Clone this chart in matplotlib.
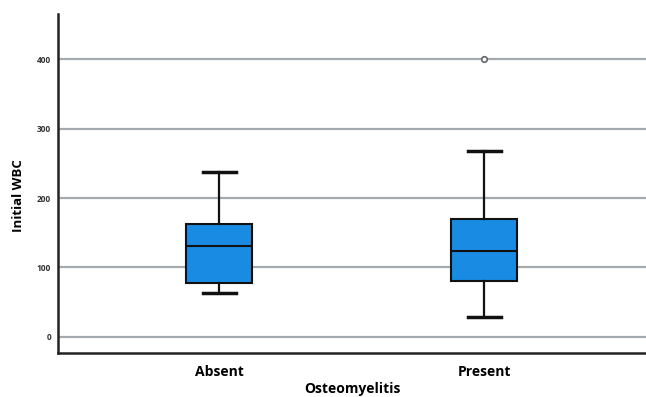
import numpy as np
import matplotlib.pyplot as plt

plt.rcParams['font.family'] = ['Open Sans', 'DejaVu Sans']

groups = ['Absent', 'Present']
whislo = [63, 29]
q1 = [78, 81]
med = [131, 124]
q3 = [163, 170]
whishi = [237, 268]
outliers = [[], [400]]
yticks = [0, 100, 200, 300, 400]

stats = []
for i in range(len(groups)):
    stats.append(dict(label=groups[i], whislo=whislo[i], q1=q1[i], med=med[i],
                      q3=q3[i], whishi=whishi[i], fliers=outliers[i]))

fig = plt.figure(figsize=(6.46, 3.97), dpi=100)
ax = fig.add_axes([0.09, 0.111, 0.91, 0.854])

for y in yticks:
    ax.axhline(y, color='#a3abb0', lw=1.6, zorder=0)

ax.bxp(stats, positions=[0, 1], widths=0.25, patch_artist=True,
       boxprops=dict(facecolor='#1a8be2', edgecolor='#111111', lw=1.5),
       medianprops=dict(color='#111111', lw=1.5),
       whiskerprops=dict(color='#111111', lw=1.6),
       capprops=dict(color='#111111', lw=2.5),
       capwidths=0.125,
       flierprops=dict(marker='o', markersize=4, markerfacecolor='white',
                       markeredgecolor='#666666', markeredgewidth=1.2))

ax.set_xlim(-0.608, 1.611)
ax.set_ylim(-23, 465)
ax.set_yticks(yticks)
ax.set_yticklabels([str(v) for v in yticks], fontsize=6, fontweight='bold', color='#333333')
ax.set_xticks([0, 1])
ax.set_xticklabels(groups, fontsize=10, fontweight='bold')
ax.tick_params(length=0, pad=5)
ax.tick_params(axis='x', pad=9)
ax.set_ylabel('Initial WBC', fontsize=9.5, fontweight='bold')
ax.yaxis.set_label_coords(-0.057, 0.463)
ax.set_xlabel('Osteomyelitis', fontsize=10, fontweight='bold', labelpad=2)

for s in ['top', 'right']:
    ax.spines[s].set_visible(False)
for s in ['left', 'bottom']:
    ax.spines[s].set_linewidth(1.8)
    ax.spines[s].set_color('#222222')

fig.savefig('out.png', dpi=100)
